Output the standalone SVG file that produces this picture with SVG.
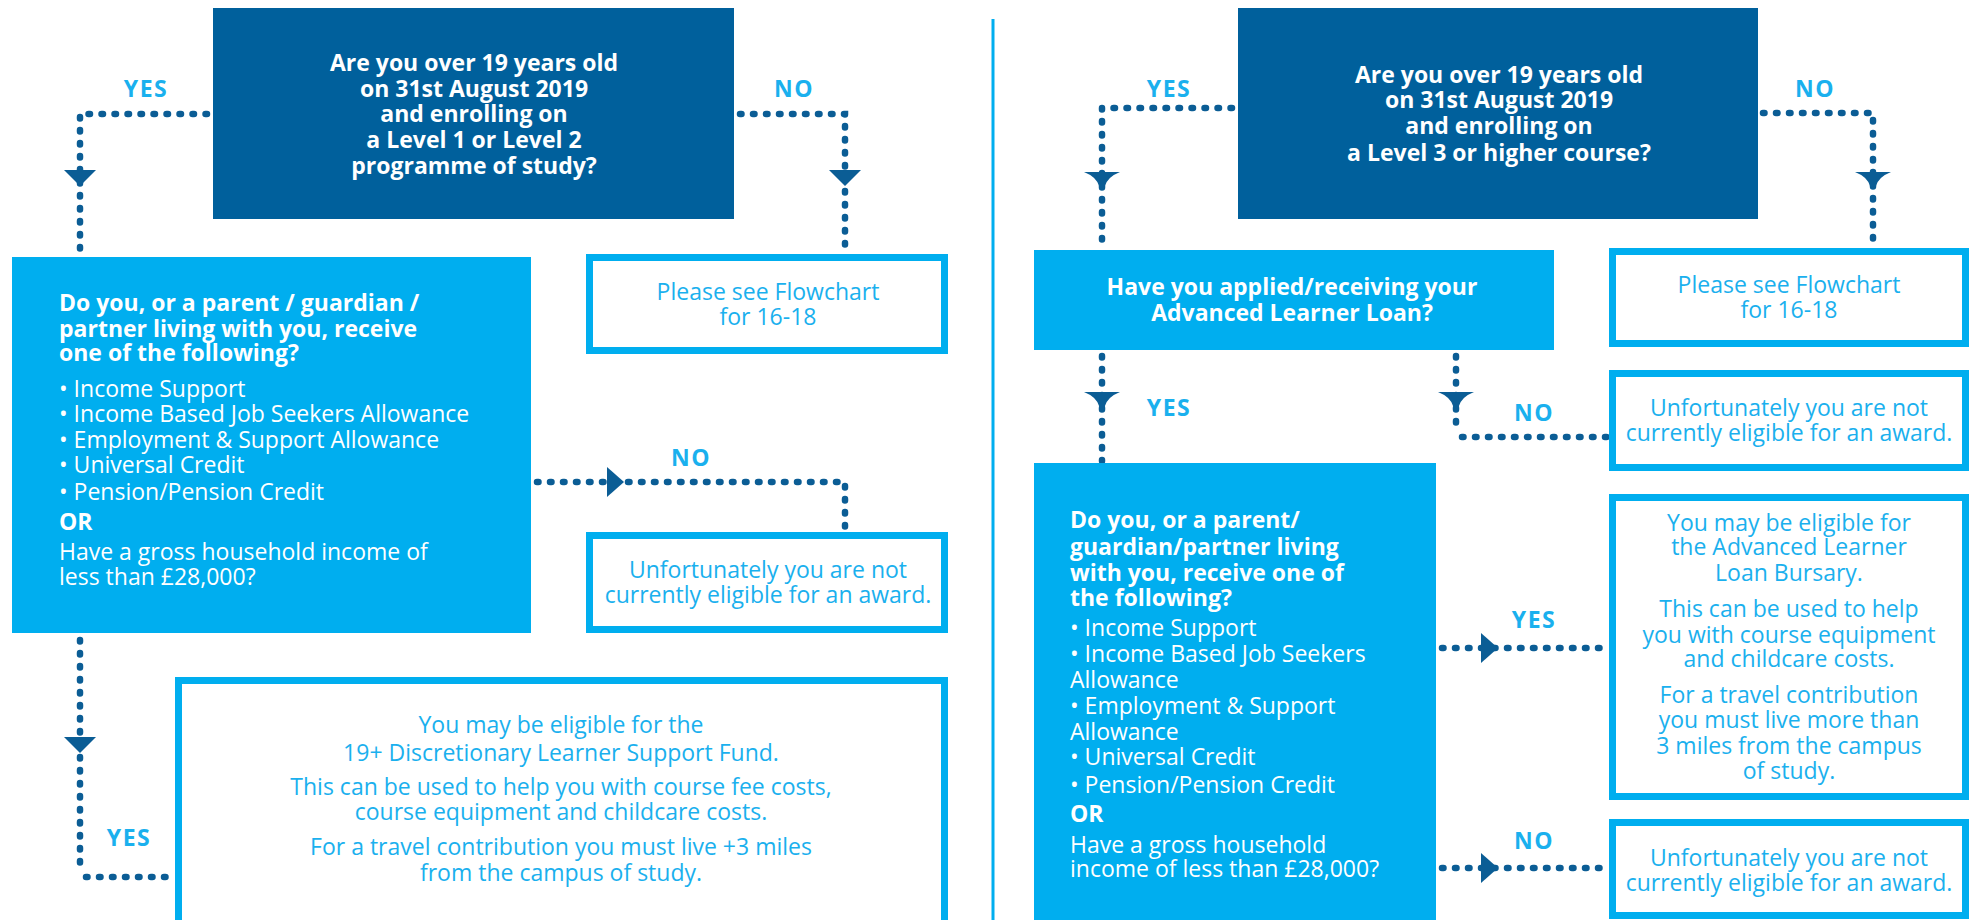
<svg xmlns="http://www.w3.org/2000/svg" width="1970" height="920" viewBox="0 0 1970 920">
<defs>
<style>
.dark{fill:#00609c}
.light{fill:#00aeef}
.out{fill:#fff;stroke:#00aeef;stroke-width:7}
.w{font-family:"Open Sans","Noto Sans",sans-serif;fill:#fff;font-size:23px}
.wb{font-family:"Open Sans","Noto Sans",sans-serif;fill:#fff;font-size:23px;font-weight:bold}
.t{font-family:"Open Sans","Noto Sans",sans-serif;fill:#1ab0ee;font-size:23px;text-anchor:middle}
.lbl{font-family:"Open Sans","Noto Sans",sans-serif;fill:#1ab0ee;font-size:23px;font-weight:bold;letter-spacing:1.5px;text-anchor:middle}
.c{text-anchor:middle}
.dot{fill:none;stroke:#0b5d95;stroke-width:6.5;stroke-linecap:round;stroke-dasharray:1.5 11.5}
.ah{fill:#0b5d95}
</style>
<path id="ad" d="M-16,0 L16,0 L0,16 Z"/>
<path id="af" d="M-18,0 H18 Q5,5 2.5,15 H-2.5 Q-5,5 -18,0 Z"/>
<path id="ar" d="M0,-15 L17,0 L0,15 Z"/>
</defs>

<line x1="993" y1="19" x2="993" y2="920" stroke="#00aeef" stroke-width="3"/>

<g id="connectors">
<path class="dot" d="M207,114 H80 V254"/>
<path class="dot" d="M740,114 H845 V252"/>
<path class="dot" d="M537,482 H845 V530"/>
<path class="dot" d="M80,640 V870 M86,877 H176"/>
<path class="dot" d="M1232,108 H1102 V248"/>
<path class="dot" d="M1763,113 H1873 V246"/>
<path class="dot" d="M1102,356 V461"/>
<path class="dot" d="M1456,356 V430 M1462,437 H1607"/>
<path class="dot" d="M1442,648 H1607"/>
<path class="dot" d="M1442,868 H1607"/>
<use href="#ad" class="ah" x="80" y="170"/>
<use href="#ad" class="ah" x="845" y="170"/>
<use href="#ar" class="ah" x="607" y="482"/>
<use href="#ad" class="ah" x="80" y="737"/>
<use href="#af" class="ah" x="1102" y="172"/>
<use href="#af" class="ah" x="1873" y="172"/>
<use href="#af" class="ah" x="1102" y="392"/>
<use href="#af" class="ah" x="1456" y="392"/>
<use href="#ar" class="ah" x="1481" y="648"/>
<use href="#ar" class="ah" x="1481" y="868"/>
<text class="lbl" x="146" y="97">YES</text>
<text class="lbl" x="794" y="97">NO</text>
<text class="lbl" x="691" y="466">NO</text>
<text class="lbl" x="129" y="846">YES</text>
<text class="lbl" x="1169" y="97">YES</text>
<text class="lbl" x="1815" y="97">NO</text>
<text class="lbl" x="1169" y="416">YES</text>
<text class="lbl" x="1534" y="421">NO</text>
<text class="lbl" x="1534" y="628">YES</text>
<text class="lbl" x="1534" y="849">NO</text>
</g>

<g id="q1">
<rect class="dark" x="213" y="8" width="521" height="211"/>
<text class="wb c" x="474"><tspan x="474" y="71">Are you over 19 years old</tspan><tspan x="474" y="97">on 31st August 2019</tspan><tspan x="474" y="122">and enrolling on</tspan><tspan x="474" y="148">a Level 1 or Level 2</tspan><tspan x="474" y="174">programme of study?</tspan></text>
</g>

<g id="q2">
<rect class="light" x="12" y="257" width="519" height="376"/>
<text class="wb" x="59"><tspan x="59" y="311">Do you, or a parent / guardian /</tspan><tspan x="59" y="337">partner living with you, receive</tspan><tspan x="59" y="361">one of the following?</tspan></text>
<text class="w" x="59"><tspan x="59" y="397">• Income Support</tspan><tspan x="59" y="422">• Income Based Job Seekers Allowance</tspan><tspan x="59" y="448">• Employment &amp; Support Allowance</tspan><tspan x="59" y="473">• Universal Credit</tspan><tspan x="59" y="500">• Pension/Pension Credit</tspan></text>
<text class="wb" x="59" y="530">OR</text>
<text class="w" x="59"><tspan x="59" y="560">Have a gross household income of</tspan><tspan x="59" y="585">less than £28,000?</tspan></text>
</g>

<g id="flow-left">
<rect class="out" x="589.5" y="257.5" width="355" height="93"/>
<text class="t"><tspan x="768" y="300">Please see Flowchart</tspan><tspan x="768" y="325">for 16-18</tspan></text>
</g>

<g id="noaward-left">
<rect class="out" x="589.5" y="535.5" width="355" height="94"/>
<text class="t"><tspan x="768" y="578">Unfortunately you are not</tspan><tspan x="768" y="603">currently eligible for an award.</tspan></text>
</g>

<g id="fund">
<rect class="out" x="178.5" y="680.5" width="766" height="260"/>
<text class="t"><tspan x="561" y="733">You may be eligible for the</tspan><tspan x="561" y="761">19+ Discretionary Learner Support Fund.</tspan><tspan x="561" y="795">This can be used to help you with course fee costs,</tspan><tspan x="561" y="820">course equipment and childcare costs.</tspan><tspan x="561" y="855">For a travel contribution you must live +3 miles</tspan><tspan x="561" y="881">from the campus of study.</tspan></text>
</g>

<g id="q3">
<rect class="dark" x="1238" y="8" width="520" height="211"/>
<text class="wb c"><tspan x="1499" y="83">Are you over 19 years old</tspan><tspan x="1499" y="108">on 31st August 2019</tspan><tspan x="1499" y="134">and enrolling on</tspan><tspan x="1499" y="161">a Level 3 or higher course?</tspan></text>
</g>

<g id="q4">
<rect class="light" x="1034" y="250" width="520" height="100"/>
<text class="wb c"><tspan x="1292" y="295">Have you applied/receiving your</tspan><tspan x="1292" y="321">Advanced Learner Loan?</tspan></text>
</g>

<g id="flow-right">
<rect class="out" x="1612.5" y="251.5" width="353" height="92"/>
<text class="t"><tspan x="1789" y="293">Please see Flowchart</tspan><tspan x="1789" y="318">for 16-18</tspan></text>
</g>

<g id="noaward-right-1">
<rect class="out" x="1612.5" y="373.5" width="353" height="94"/>
<text class="t"><tspan x="1789" y="416">Unfortunately you are not</tspan><tspan x="1789" y="441">currently eligible for an award.</tspan></text>
</g>

<g id="q5">
<rect class="light" x="1034" y="463" width="402" height="470"/>
<text class="wb"><tspan x="1070" y="528">Do you, or a parent/</tspan><tspan x="1070" y="555">guardian/partner living</tspan><tspan x="1070" y="581">with you, receive one of</tspan><tspan x="1070" y="606">the following?</tspan></text>
<text class="w"><tspan x="1070" y="636">• Income Support</tspan><tspan x="1070" y="662">• Income Based Job Seekers</tspan><tspan x="1070" y="688">Allowance</tspan><tspan x="1070" y="714">• Employment &amp; Support</tspan><tspan x="1070" y="740">Allowance</tspan><tspan x="1070" y="765">• Universal Credit</tspan><tspan x="1070" y="793">• Pension/Pension Credit</tspan></text>
<text class="wb" x="1070" y="822">OR</text>
<text class="w"><tspan x="1070" y="853">Have a gross household</tspan><tspan x="1070" y="877">income of less than £28,000?</tspan></text>
</g>

<g id="bursary">
<rect class="out" x="1612.5" y="497.5" width="353" height="299"/>
<text class="t"><tspan x="1789" y="531">You may be eligible for</tspan><tspan x="1789" y="555">the Advanced Learner</tspan><tspan x="1789" y="581">Loan Bursary.</tspan><tspan x="1789" y="617">This can be used to help</tspan><tspan x="1789" y="643">you with course equipment</tspan><tspan x="1789" y="667">and childcare costs.</tspan><tspan x="1789" y="703">For a travel contribution</tspan><tspan x="1789" y="728">you must live more than</tspan><tspan x="1789" y="754">3 miles from the campus</tspan><tspan x="1789" y="779">of study.</tspan></text>
</g>

<g id="noaward-right-2">
<rect class="out" x="1612.5" y="822.5" width="353" height="93"/>
<text class="t"><tspan x="1789" y="866">Unfortunately you are not</tspan><tspan x="1789" y="891">currently eligible for an award.</tspan></text>
</g>
</svg>
